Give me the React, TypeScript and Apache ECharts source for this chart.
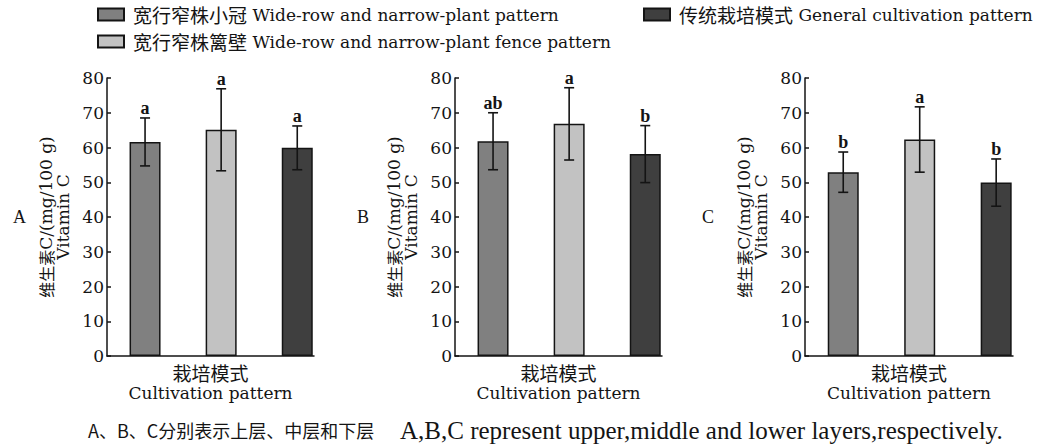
import React, { useEffect, useRef } from 'react';
import * as echarts from 'echarts';

// Planting patterns (legend entries)
const patterns = [
  '宽行窄株小冠 Wide-row and narrow-plant pattern',
  '宽行窄株篱壁 Wide-row and narrow-plant fence pattern',
  '传统栽培模式 General cultivation pattern',
];
const patternColors = ['#808080', '#c2c2c2', '#3f3f3f'];

// Bar positions on the x axis (one per pattern)
const xPositions = [1, 2, 3];

// Canopy layers
const panelLabels = ['A', 'B', 'C'];

// Vitamin C content, mg/100 g (mean and standard deviation)
const meansA = [61.6, 65.1, 59.9];
const sdA = [6.9, 11.8, 6.3];
const lettersA = ['a', 'a', 'a'];

const meansB = [61.8, 66.8, 58.1];
const sdB = [8.2, 10.4, 8.2];
const lettersB = ['ab', 'a', 'b'];

const meansC = [52.9, 62.3, 49.9];
const sdC = [5.8, 9.4, 6.8];
const lettersC = ['b', 'a', 'b'];

const yTickMax = 80;
const yTickStep = 10;

const panelMeans = [meansA, meansB, meansC];
const panelSds = [sdA, sdB, sdC];
const panelLetters = [lettersA, lettersB, lettersC];

const footnoteCn = 'A、B、C分别表示上层、中层和下层';
const footnoteEn = 'A,B,C represent upper,middle and lower layers,respectively.';

const SERIF = '"DejaVu Serif", "Noto Sans CJK SC", serif';
const TIMES = '"Liberation Serif", "Noto Sans CJK SC", serif';
const CJK = '"Noto Sans CJK SC", sans-serif';
const INK = '#141414';

const gridLefts = [107, 455, 805];
const gridWidths = [207, 207, 208];
const panelLabelX = [13, 357, 702];

export default function App() {
  const ref = useRef<HTMLDivElement>(null);

  useEffect(() => {
    const chart = echarts.init(ref.current!, null, { renderer: 'svg' });

    const grids = gridLefts.map((left, i) => ({
      left,
      top: 78,
      width: gridWidths[i],
      height: 278,
      outerBoundsMode: 'none',
    }));

    const xAxes = gridLefts.map((_, i) => ({
      type: 'value',
      gridIndex: i,
      min: 0.5,
      max: 3.22,
      axisLine: { show: true, onZero: false, lineStyle: { color: INK, width: 1.5 } },
      axisTick: { show: false },
      axisLabel: { show: false },
      splitLine: { show: false },
      name: '{cn|栽培模式}\n{en|Cultivation pattern}',
      nameLocation: 'middle',
      nameGap: 5,
      nameMoveOverlap: false,
      nameTextStyle: {
        color: INK,
        rich: {
          cn: { fontFamily: CJK, fontSize: 19, color: INK, lineHeight: 22 },
          en: { fontFamily: SERIF, fontSize: 17, color: INK, lineHeight: 20 },
        },
      },
    }));

    const yAxes = gridLefts.map((_, i) => ({
      type: 'value',
      gridIndex: i,
      min: 0,
      max: yTickMax,
      interval: yTickStep,
      axisLine: { show: true, lineStyle: { color: INK, width: 1.5 } },
      axisTick: { show: true, inside: true, length: 4, lineStyle: { color: INK, width: 1.5 } },
      axisLabel: { fontFamily: SERIF, fontSize: 17, color: INK, margin: 3 },
      splitLine: { show: false },
      name: '{cn|维生素}{en|C/(mg/100 g)}\n{en|Vitamin C}',
      nameLocation: 'middle',
      nameRotate: 90,
      nameGap: 36,
      nameMoveOverlap: false,
      nameTextStyle: {
        color: INK,
        rich: {
          cn: { fontFamily: CJK, fontSize: 16, color: INK, lineHeight: 17 },
          en: { fontFamily: SERIF, fontSize: 17, color: INK, lineHeight: 17 },
        },
      },
    }));

    const series: any[] = [];
    panelMeans.forEach((means, p) => {
      patterns.forEach((name, k) => {
        series.push({
          type: 'bar',
          name,
          xAxisIndex: p,
          yAxisIndex: p,
          barWidth: 31,
          barGap: '-100%',
          data: [[xPositions[k], means[k]]],
          itemStyle: { color: patternColors[k], borderColor: INK, borderWidth: 1.5 },
          emphasis: { disabled: true },
        });
      });
      const sds = panelSds[p];
      const letters = panelLetters[p];
      series.push({
        type: 'custom',
        name: 'error-' + panelLabels[p],
        xAxisIndex: p,
        yAxisIndex: p,
        z: 10,
        clip: false,
        data: xPositions.map((x, k) => [x, means[k], sds[k]]),
        renderItem: (params: any, api: any) => {
          const x = api.value(0);
          const m = api.value(1);
          const s = api.value(2);
          const top = api.coord([x, m + s]);
          const bot = api.coord([x, m - s]);
          const hw = 5;
          const st = { stroke: INK, lineWidth: 1.6 };
          return {
            type: 'group',
            children: [
              { type: 'line', shape: { x1: top[0], y1: top[1], x2: bot[0], y2: bot[1] }, style: st },
              { type: 'line', shape: { x1: top[0] - hw, y1: top[1], x2: top[0] + hw, y2: top[1] }, style: st },
              { type: 'line', shape: { x1: bot[0] - hw, y1: bot[1], x2: bot[0] + hw, y2: bot[1] }, style: st },
              {
                type: 'text',
                x: top[0],
                y: top[1] - 1,
                style: {
                  text: letters[params.dataIndex],
                  align: 'center',
                  verticalAlign: 'bottom',
                  fontFamily: TIMES,
                  fontSize: 18,
                  fontWeight: 'bold',
                  fill: INK,
                },
              },
            ],
          };
        },
      });
    });

    const legendCommon = {
      icon: 'rect',
      itemWidth: 26,
      itemHeight: 12,
      selectedMode: false,
      padding: 0,
      formatter: (name: string) => {
        const i = name.indexOf(' ');
        return '{cn|' + name.slice(0, i) + '}{en|' + name.slice(i) + '}';
      },
      textStyle: {
        color: INK,
        padding: [0, 0, 0, 4],
        rich: {
          cn: { fontFamily: CJK, fontSize: 19, color: INK },
          en: { fontFamily: SERIF, fontSize: 17, color: INK },
        },
      },
    };

    const graphics: any[] = panelLabels.map((t, i) => ({
      type: 'text',
      x: panelLabelX[i],
      y: 217,
      style: { text: t, fontFamily: TIMES, fontSize: 18, fill: INK, align: 'left', verticalAlign: 'middle' },
    }));
    graphics.push({
      type: 'text',
      x: 88,
      y: 430,
      style: {
        text: footnoteCn,
        verticalAlign: 'middle',
        align: 'left',
        fontFamily: CJK,
        fontSize: 18,
        fill: INK,
      },
    });
    graphics.push({
      type: 'text',
      x: 400,
      y: 430,
      style: {
        text: footnoteEn,
        verticalAlign: 'middle',
        align: 'left',
        fontFamily: '"Liberation Serif", serif',
        fontSize: 25,
        fill: INK,
      },
    });

    chart.setOption({
      animation: false,
      backgroundColor: '#ffffff',
      grid: grids,
      xAxis: xAxes,
      yAxis: yAxes,
      legend: [
        { ...legendCommon, data: [patterns[0]], left: 97, top: 5 },
        { ...legendCommon, data: [patterns[1]], left: 97, top: 32 },
        { ...legendCommon, data: [patterns[2]], left: 643, top: 5 },
      ],
      series,
      graphic: graphics,
    });

    return () => chart.dispose();
  }, []);

  return (
    <div
      ref={ref}
      style={{ position: 'absolute', left: 0, top: 0, width: 1040, height: 446, background: '#fff' }}
    />
  );
}
